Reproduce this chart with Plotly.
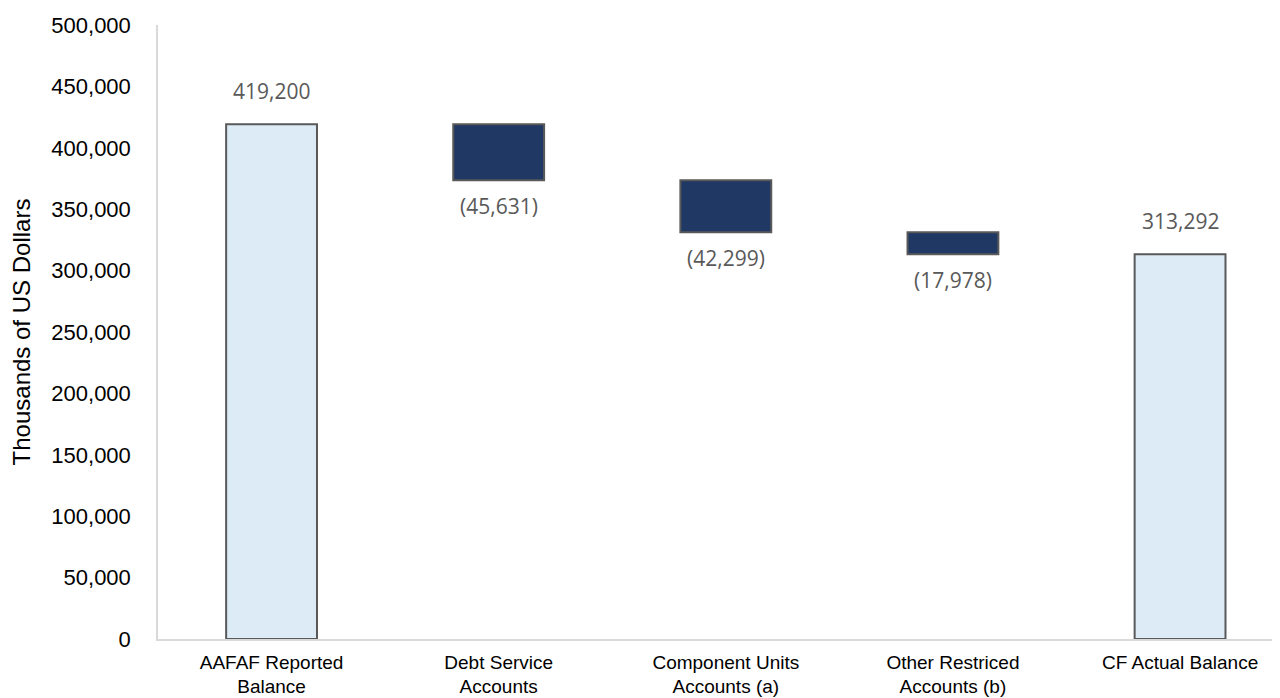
import plotly.graph_objects as go

categories = ["AAFAF Reported<br>Balance", "Debt Service<br>Accounts", "Component Units<br>Accounts (a)",
              "Other Restriced<br>Accounts (b)", "CF Actual Balance"]
values = [419200, -45631, -42299, -17978, 313292]
measures = ["absolute", "relative", "relative", "relative", "total"]

def fmt(v):
    return f"({abs(v):,})" if v < 0 else f"{v:,}"

labels = [fmt(v) for v in values]

LIGHT = "#DDEBF7"
DARK = "#203864"
EDGE = "#595959"

fig = go.Figure(go.Waterfall(
    x=categories,
    y=values,
    measure=measures,
    decreasing=dict(marker=dict(color=DARK, line=dict(color=EDGE, width=2))),
    increasing=dict(marker=dict(color=LIGHT, line=dict(color=EDGE, width=2))),
    totals=dict(marker=dict(color=LIGHT, line=dict(color=EDGE, width=2))),
    connector=dict(visible=False),
    hoverinfo="skip",
))

# data labels positioned at bar ends
running = 0
for cat, v, m, lab in zip(categories, values, measures, labels):
    if m == "absolute":
        running = v
        y_end, pos = v, True
    elif m == "total":
        y_end, pos = running, True
    else:
        running += v
        y_end, pos = running, v >= 0
    fig.add_annotation(
        x=cat, y=y_end, text=lab, showarrow=False,
        yanchor="bottom" if pos else "top",
        yshift=17 if pos else -10,
        font=dict(family="Open Sans", size=21, color="#595959"),
    )

fig.update_layout(
    width=1272, height=690,
    margin=dict(l=150, r=0, t=17, b=59),
    plot_bgcolor="white", paper_bgcolor="white",
    waterfallgap=0.6,
    showlegend=False,
    font=dict(family="Liberation Sans, Arial", size=20, color="#000000"),
)
fig.update_xaxes(
    range=[-0.5, 4.44],
    showline=True, linecolor="#D9D9D9", linewidth=1.5,
    showgrid=False, ticks="", ticklabelstandoff=5,
    tickfont=dict(family="Liberation Sans, Arial", size=19, color="#000000"),
)
fig.update_yaxes(
    range=[0, 500000], dtick=50000, tickformat=",d",
    showline=True, linecolor="#D9D9D9", linewidth=1.5,
    showgrid=False, ticks="", ticklabelstandoff=21,
    tickfont=dict(family="Liberation Sans, Arial", size=22, color="#000000"),
    title=dict(text="Thousands of US Dollars", standoff=16,
               font=dict(family="Liberation Sans, Arial", size=24, color="#000000")),
    zeroline=False,
)

fig.write_html("out.html")
